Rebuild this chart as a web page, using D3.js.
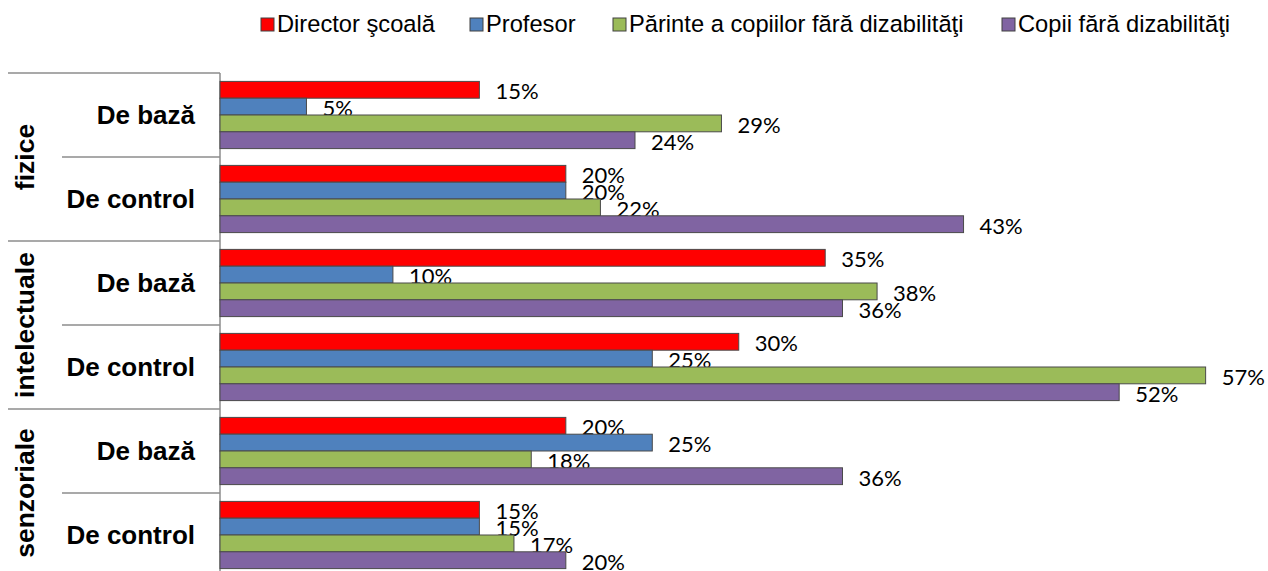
<!DOCTYPE html>
<html>
<head>
<meta charset="utf-8">
<script src="https://cdn.jsdelivr.net/npm/d3@7"></script>
<style>
  body { margin: 0; background: #fff; }
  svg { display: block; }
</style>
</head>
<body>
<script>
const groups = ["fizice", "intelectuale", "senzoriale"];
const types = ["De bază", "De control"];
const series = ["Director şcoală", "Profesor", "Părinte a copiilor fără dizabilităţi", "Copii fără dizabilităţi"];
const colors = ["#ff0000", "#4f81bd", "#9bbb59", "#8064a2"];

// values in %, one per row: fizice/bază, fizice/control, intelectuale/bază, ...
const director = [15, 20, 35, 30, 20, 15];
const profesor = [5, 20, 10, 25, 25, 15];
const parinte = [29, 22, 38, 57, 18, 17];
const copii = [24, 43, 36, 52, 36, 20];
const values = [director, profesor, parinte, copii];

const w = 1268;
const h = 571;
const axisX = 220;
const plotTop = 73;
const rowStep = 84;

const rows = [];
groups.forEach(g => types.forEach(t => rows.push({ group: g, type: t, key: g + "|" + t })));

const data = [];
rows.forEach((r, i) => {
  series.forEach((s, j) => {
    data.push({ row: r.key, series: s, idx: j, value: values[j][i] });
  });
});

const svg = d3.select("body")
  .append("svg")
  .attr("width", w)
  .attr("height", h);

const xScale = d3.scaleLinear()
  .domain([0, 60])
  .range([axisX, 1257.5]);

const yScale = d3.scaleBand()
  .domain(rows.map(r => r.key))
  .range([plotTop, plotTop + rowStep * rows.length])
  .paddingInner(0.2)
  .paddingOuter(0.1);

const ySub = d3.scaleBand()
  .domain(series)
  .range([0, yScale.bandwidth()]);

// separators on the category axis
svg.append("g")
  .selectAll("line")
  .data(rows.concat([{ type: types[0], key: "end" }]))
  .enter()
  .append("line")
  .attr("x1", d => d.type === types[0] ? 8 : 62)
  .attr("x2", axisX)
  .attr("y1", (d, i) => plotTop + i * yScale.step())
  .attr("y2", (d, i) => plotTop + i * yScale.step())
  .attr("stroke", "#8c8c8c")
  .attr("stroke-width", 1.5);

svg.append("line")
  .attr("x1", axisX)
  .attr("x2", axisX)
  .attr("y1", plotTop)
  .attr("y2", plotTop + rowStep * rows.length)
  .attr("stroke", "#8c8c8c")
  .attr("stroke-width", 1.5);

// inner labels
svg.append("g")
  .selectAll("text")
  .data(rows)
  .enter()
  .append("text")
  .attr("x", 195)
  .attr("y", d => yScale(d.key) + yScale.bandwidth() / 2 + 9)
  .attr("text-anchor", "end")
  .attr("font-family", "'Liberation Sans', Arial, sans-serif")
  .attr("font-weight", "bold")
  .attr("font-size", 26)
  .attr("fill", "#000")
  .text(d => d.type);

// outer labels
svg.append("g")
  .selectAll("text")
  .data(groups)
  .enter()
  .append("text")
  .attr("transform", (d, i) => {
    const c = plotTop + (i * 2 + 1) * yScale.step();
    return "translate(34," + c + ") rotate(-90)";
  })
  .attr("text-anchor", "middle")
  .attr("font-family", "'Liberation Sans', Arial, sans-serif")
  .attr("font-weight", "bold")
  .attr("font-size", 26.5)
  .attr("fill", "#000")
  .text(d => d);

// data labels (drawn under the bars, like the original)
svg.append("g")
  .selectAll("text")
  .data(data)
  .enter()
  .append("text")
  .attr("x", d => xScale(d.value) + 16)
  .attr("y", d => yScale(d.row) + ySub(d.series) + ySub.bandwidth() + 1)
  .attr("font-family", "Lato, 'Open Sans', sans-serif")
  .attr("font-size", 22)
  .attr("fill", "#000")
  .text(d => d.value + "%");

// bars
svg.append("g")
  .selectAll("rect")
  .data(data)
  .enter()
  .append("rect")
  .attr("x", xScale(0))
  .attr("y", d => yScale(d.row) + ySub(d.series))
  .attr("width", d => xScale(d.value) - xScale(0))
  .attr("height", ySub.bandwidth())
  .attr("fill", d => colors[d.idx])
  .attr("stroke", "#4a4a4a")
  .attr("stroke-width", 1);

// legend
const legendX = [261, 470, 613, 1002];
const legend = svg.append("g")
  .selectAll("g")
  .data(series)
  .enter()
  .append("g")
  .attr("transform", (d, i) => "translate(" + legendX[i] + ",18)");

legend.append("rect")
  .attr("width", 13)
  .attr("height", 13)
  .attr("fill", (d, i) => colors[i])
  .attr("stroke", "#404040")
  .attr("stroke-width", 1);

legend.append("text")
  .attr("x", 16)
  .attr("y", 14)
  .attr("font-family", "'Liberation Sans', Arial, sans-serif")
  .attr("font-size", 23.7)
  .attr("fill", "#000")
  .text(d => d);
</script>
</body>
</html>
